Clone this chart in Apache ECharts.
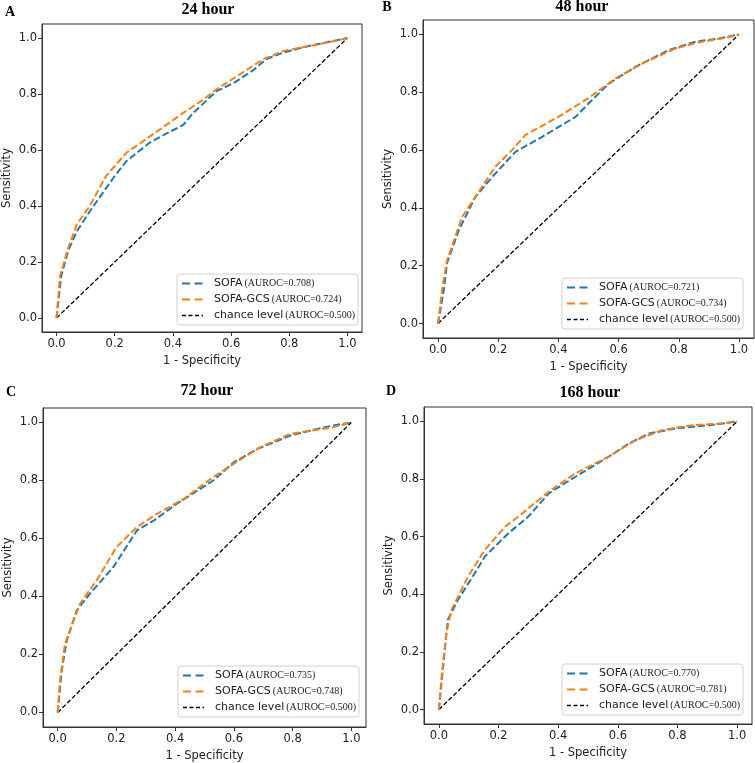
<!DOCTYPE html>
<html>
<head>
<meta charset="utf-8">
<script src="https://cdn.jsdelivr.net/npm/echarts@6/dist/echarts.min.js"></script>
<style>html,body{margin:0;padding:0;background:#fff}#c{width:755px;height:763px}</style>
</head>
<body>
<div id="c"></div>
<script>
// ---- data ----
const panelTitles = ['24 hour', '48 hour', '72 hour', '168 hour'];
const panelLetters = ['A', 'B', 'C', 'D'];
const seriesNames = ['SOFA', 'SOFA-GCS', 'chance level'];
const aurocA = ['0.708', '0.724', '0.500'];
const aurocB = ['0.721', '0.734', '0.500'];
const aurocC = ['0.735', '0.748', '0.500'];
const aurocD = ['0.770', '0.781', '0.500'];
const tickValues = [0, 0.2, 0.4, 0.6, 0.8, 1.0];
const chance = [[0, 0], [1, 1]];

const sofaA = [[0,0],[0.016,0.15],[0.04,0.24],[0.07,0.31],[0.12,0.39],[0.2,0.507],[0.24,0.56],[0.32,0.626],[0.38,0.66],[0.436,0.69],[0.47,0.733],[0.55,0.81],[0.61,0.84],[0.68,0.888],[0.72,0.924],[0.78,0.948],[0.86,0.97],[1,1]];
const gcsA  = [[0,0],[0.012,0.15],[0.04,0.25],[0.07,0.335],[0.114,0.4],[0.17,0.507],[0.24,0.59],[0.29,0.626],[0.356,0.674],[0.436,0.733],[0.505,0.78],[0.55,0.817],[0.63,0.87],[0.71,0.924],[0.78,0.954],[0.9,0.977],[1,1]];

const sofaB = [[0,0],[0.019,0.115],[0.03,0.21],[0.069,0.323],[0.124,0.438],[0.18,0.507],[0.257,0.594],[0.346,0.646],[0.457,0.715],[0.5,0.761],[0.568,0.83],[0.656,0.888],[0.767,0.946],[0.856,0.975],[0.933,0.986],[1,1]];
const gcsB  = [[0,0],[0.013,0.115],[0.03,0.219],[0.08,0.369],[0.124,0.438],[0.19,0.542],[0.246,0.6],[0.29,0.652],[0.4,0.715],[0.5,0.78],[0.59,0.848],[0.68,0.9],[0.79,0.952],[0.878,0.975],[0.945,0.986],[1,1]];

const sofaC = [[0,0],[0.014,0.146],[0.031,0.249],[0.065,0.352],[0.11,0.41],[0.19,0.502],[0.27,0.628],[0.327,0.662],[0.406,0.72],[0.53,0.8],[0.6,0.863],[0.68,0.909],[0.793,0.955],[0.884,0.978],[0.94,0.99],[1,1]];
const gcsC  = [[0,0],[0.008,0.111],[0.025,0.238],[0.076,0.375],[0.133,0.456],[0.2,0.57],[0.27,0.64],[0.338,0.685],[0.43,0.737],[0.53,0.812],[0.6,0.858],[0.69,0.915],[0.793,0.961],[0.884,0.975],[0.94,0.984],[1,1]];

const sofaD = [[0,0],[0.013,0.139],[0.03,0.312],[0.064,0.381],[0.12,0.473],[0.154,0.531],[0.233,0.612],[0.3,0.67],[0.368,0.75],[0.458,0.808],[0.57,0.878],[0.638,0.924],[0.705,0.958],[0.795,0.976],[0.908,0.987],[0.953,0.993],[1,1]];
const gcsD  = [[0,0],[0.008,0.104],[0.025,0.266],[0.042,0.346],[0.098,0.462],[0.154,0.554],[0.222,0.635],[0.267,0.67],[0.368,0.756],[0.458,0.82],[0.57,0.878],[0.66,0.935],[0.75,0.97],[0.85,0.987],[0.953,0.993],[1,1]];

const panelData = [[sofaA, gcsA, aurocA], [sofaB, gcsB, aurocB], [sofaC, gcsC, aurocC], [sofaD, gcsD, aurocD]];

// ---- layout / styling ----
const grids = [
  {left: 42, top: 24, width: 320, height: 308},
  {left: 423, top: 20, width: 331, height: 318},
  {left: 43, top: 408, width: 323, height: 319},
  {left: 424, top: 407, width: 328, height: 317}
];
const legendPos = [
  {left: 177, top: 274},
  {left: 562, top: 278},
  {left: 178, top: 666},
  {left: 562, top: 664}
];
const titlePos = [[208, 10], [582, 7], [207, 391], [590, 393]];
const letterPos = [[10, 12], [387, 7], [11, 392], [391, 391]];
const colors = ['#1f77b4', '#ff7f0e', '#000000'];
const legendDash = [[8, 4.5], [8, 4.5], [4, 2.5]];

const sans = '"DejaVu Sans", sans-serif';
const serif = '"Liberation Serif", "Times New Roman", serif';

const option = {
  animation: false,
  backgroundColor: '#fff',
  grid: [], xAxis: [], yAxis: [], series: [], legend: [], graphic: []
};
const labelMap = {};

panelData.forEach((pd, i) => {
  const g = grids[i];
  option.grid.push(Object.assign({show: true, borderColor: '#333', borderWidth: 1, backgroundColor: 'transparent'}, g));
  const axisCommon = {
    type: 'value', gridIndex: i, min: -0.05, max: 1.05,
    splitLine: {show: false},
    axisLine: {show: true, onZero: false, lineStyle: {color: '#333', width: 1}},
    axisTick: {show: true, length: 4, inside: false, lineStyle: {color: '#333'}, customValues: tickValues},
    axisLabel: {customValues: tickValues, color: '#222', fontFamily: sans, fontSize: 11.5,
      formatter: v => v.toFixed(1)},
    nameLocation: 'middle',
    nameTextStyle: {color: '#222', fontFamily: sans, fontSize: 11.5}
  };
  option.xAxis.push(Object.assign({}, axisCommon, {name: '1 - Specificity', nameGap: 23,
    axisLabel: Object.assign({}, axisCommon.axisLabel, {margin: 6})}));
  option.yAxis.push(Object.assign({}, axisCommon, {name: 'Sensitivity', nameGap: 29,
    axisLabel: Object.assign({}, axisCommon.axisLabel, {margin: 5})}));

  const names = seriesNames.map(n => panelLetters[i] + '_' + n);
  const dataSets = [pd[0], pd[1], chance];
  names.forEach((nm, k) => {
    labelMap[nm] = '{a|' + seriesNames[k] + '}{b|(AUROC=' + pd[2][k] + ')}';
    option.series.push({
      type: 'line', name: nm, xAxisIndex: i, yAxisIndex: i,
      data: dataSets[k], showSymbol: false, symbol: 'none', smooth: false,
      z: k === 2 ? 2 : 3 + k,
      lineStyle: k === 2 ? {color: colors[k], width: 1.3, type: [4.5, 2.2]} : {color: colors[k], width: 2, type: [7, 3]},
      itemStyle: {color: colors[k]}
    });
  });
  option.legend.push({
    data: names.map((nm, k) => ({name: nm, lineStyle: {type: legendDash[k], width: k === 2 ? 1.5 : 2, color: colors[k]}})),
    orient: 'vertical', left: legendPos[i].left, top: legendPos[i].top,
    itemWidth: 21, itemHeight: 12, itemGap: 5, padding: [4, 3, 4, 4],
    borderColor: '#d0d0d0', borderWidth: 1, borderRadius: 3, backgroundColor: 'rgba(255,255,255,0.85)',
    selectedMode: false,
    itemStyle: {opacity: 0},
    formatter: n => labelMap[n],
    textStyle: {
      rich: {
        a: {fontFamily: sans, fontSize: 11, color: '#222', padding: [0, 2, 0, 6]},
        b: {fontFamily: serif, fontSize: 10, color: '#222'}
      }
    }
  });
  option.graphic.push({type: 'text', x: titlePos[i][0], y: titlePos[i][1],
    style: {text: panelTitles[i], font: 'bold 16px ' + serif, align: 'center', verticalAlign: 'middle', fill: '#000'}});
  option.graphic.push({type: 'text', x: letterPos[i][0], y: letterPos[i][1],
    style: {text: panelLetters[i], font: 'bold 14px ' + serif, align: 'center', verticalAlign: 'middle', fill: '#000'}});
});

const chart = echarts.init(document.getElementById('c'), null, {renderer: 'canvas'});
chart.setOption(option);
</script>
</body>
</html>
